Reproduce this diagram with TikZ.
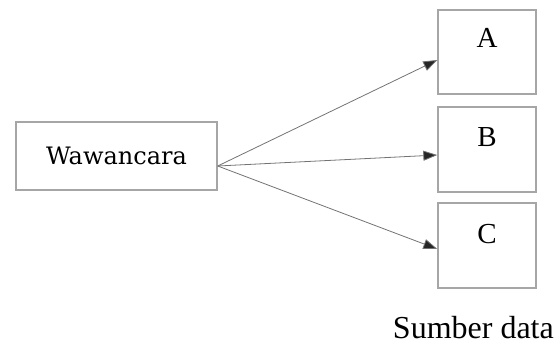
\documentclass[tikz,border=0pt]{standalone}
\usepackage{fontspec}
\setmainfont{Liberation Serif}
\newfontfamily\wfont{DejaVu Serif}
\usetikzlibrary{arrows.meta,calc}
\begin{document}
\begin{tikzpicture}[x=1pt,y=-1pt,
  boxstyle/.style={draw=black!35,line width=1.4pt,fill=white,inner sep=0pt},
  conn/.style={draw=black!55,line width=0.8pt,-{Triangle[length=14pt,width=10pt,fill=black!85]}},
  lbl/.style={font=\fontsize{29}{29}\selectfont,anchor=base,inner sep=0pt}]
\useasboundingbox (0,0) rectangle (556,346);
\node[boxstyle,minimum width=201pt,minimum height=68pt,font=\wfont\fontsize{24}{24}\selectfont] (w) at (116.5,156) {Wawancara};
\node[boxstyle,minimum width=98pt,minimum height=84pt] (a) at (487,52) {};
\node[boxstyle,minimum width=98pt,minimum height=85pt] (b) at (487,149.5) {};
\node[boxstyle,minimum width=98pt,minimum height=85pt] (c) at (487,245.5) {};
\node[lbl] (la) at ($(a.north)+(0,38)$) {A};
\node[lbl] (lb) at ($(b.north)+(0,40)$) {B};
\node[lbl] (lc) at ($(c.north)+(0,41)$) {C};
\coordinate (src) at ($(w.east)+(0,10)$);
\coordinate (ta) at ($(a.west)+(0,8)$);
\coordinate (tb) at ($(b.west)+(0,5.5)$);
\coordinate (tc) at ($(c.west)+(0,3.5)$);
\draw[conn] (src) -- (ta);
\draw[conn] (src) -- (tb);
\draw[conn] (src) -- (tc);
\node[font=\fontsize{32}{32}\selectfont,inner sep=0pt,anchor=base east] (src2) at (554,338) {Sumber data};
\end{tikzpicture}
\end{document}
